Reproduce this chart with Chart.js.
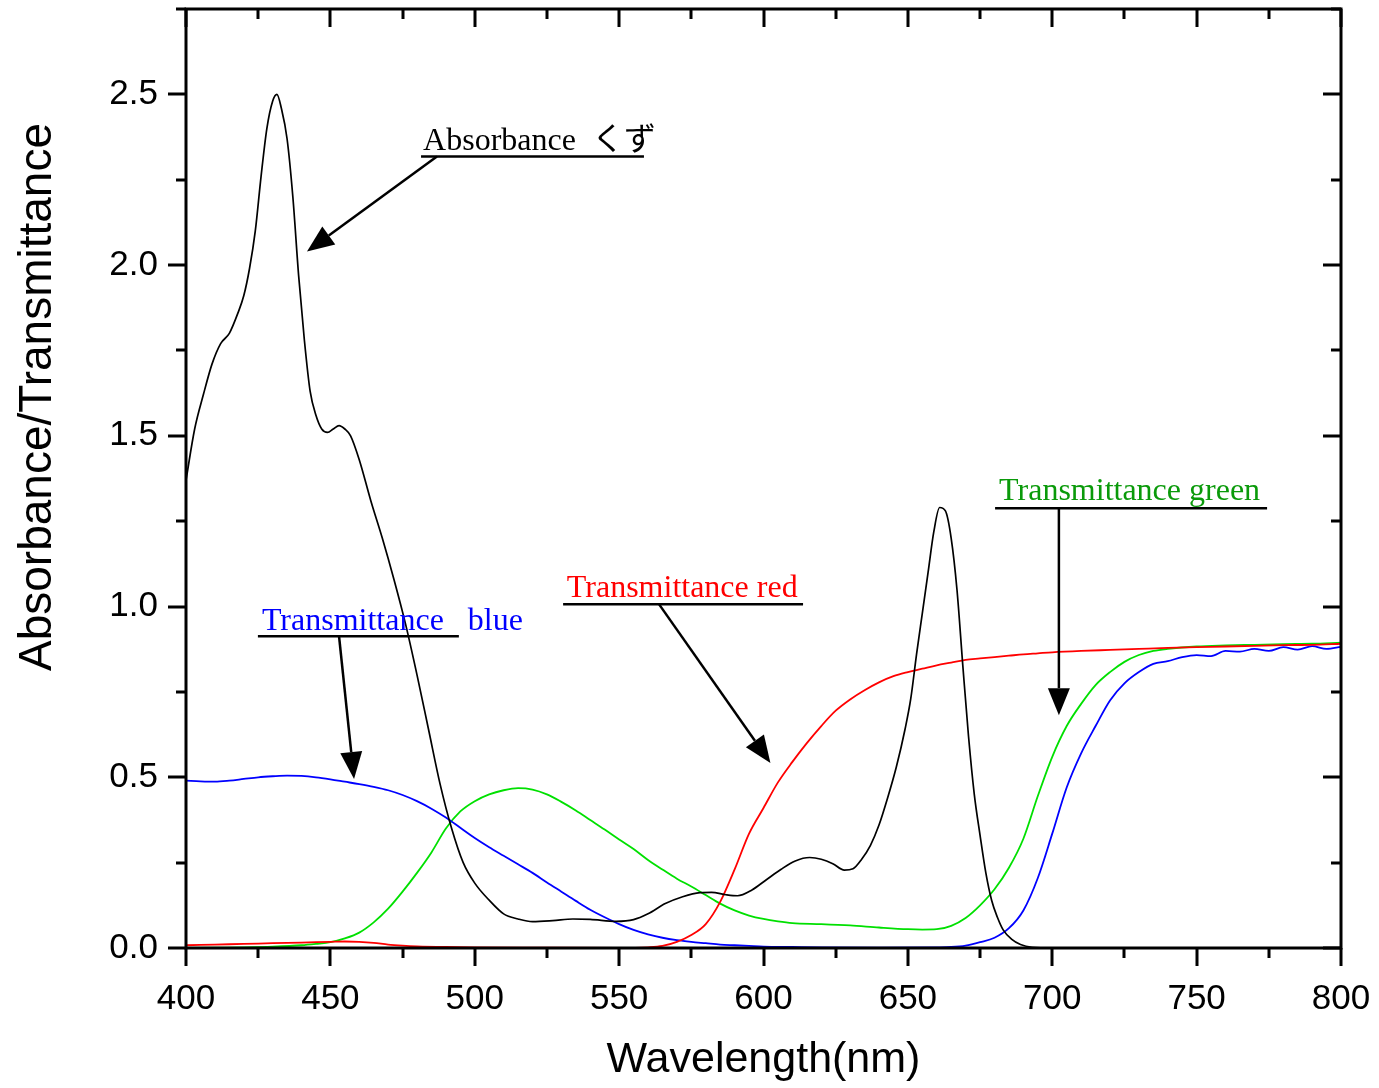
<!DOCTYPE html>
<html>
<head>
<meta charset="utf-8">
<title>Absorbance / Transmittance</title>
<script src="https://cdn.jsdelivr.net/npm/chart.js@4.4.1/dist/chart.umd.min.js"></script>
<style>
    html, body { margin: 0; padding: 0; background: #fff; }
    #wrap { width: 1379px; height: 1088px; position: relative; }
</style>
</head>
<body>
<div id="wrap"><canvas id="spectra"></canvas></div>
<script>
/* ---- data ---- */
const absWl = [400, 403, 406, 409, 412, 415, 418, 420, 422, 424, 426, 428, 430, 431.5, 433, 435, 437, 439, 441, 443,
    445, 447, 449, 451, 453, 455, 457, 460, 464, 468, 472, 476, 480, 484, 488, 492, 496, 500, 505, 510,
    515, 520, 527, 534, 540, 549, 555, 560, 566, 572, 578, 582, 587, 591, 596, 601, 606, 611, 616, 620,
    624, 628, 631, 634, 637, 640, 643, 646, 649, 651, 653, 655, 657, 659, 661, 663, 665, 667, 669, 671,
    673, 675, 677, 679, 681, 683, 686, 689, 693, 700, 800];
const absVal = [1.37, 1.52, 1.62, 1.71, 1.77, 1.80, 1.86, 1.91, 1.99, 2.10, 2.26, 2.40, 2.48, 2.50, 2.46, 2.37, 2.20, 1.97, 1.78, 1.63,
    1.56, 1.52, 1.51, 1.52, 1.53, 1.52, 1.50, 1.43, 1.31, 1.20, 1.08, 0.95, 0.80, 0.64, 0.48, 0.35, 0.25, 0.19, 0.14, 0.10,
    0.085, 0.077, 0.080, 0.085, 0.084, 0.078, 0.083, 0.10, 0.13, 0.150, 0.162, 0.163, 0.156, 0.153, 0.17, 0.20, 0.23, 0.255, 0.265, 0.26,
    0.247, 0.228, 0.232, 0.26, 0.30, 0.36, 0.44, 0.53, 0.64, 0.73, 0.86, 0.98, 1.10, 1.22, 1.29, 1.28, 1.20, 1.05, 0.83, 0.62,
    0.45, 0.33, 0.22, 0.14, 0.09, 0.053, 0.025, 0.01, 0.002, 0, 0];

const blueWl = [400, 405, 410, 415, 420, 425, 430, 435, 440, 445, 450, 455, 460, 465, 470, 475, 480, 485, 490, 495,
    500, 505, 510, 515, 520, 525, 530, 535, 540, 545, 550, 555, 560, 565, 570, 575, 580, 585, 590, 595,
    600, 610, 620, 640, 660, 665, 670, 675, 680, 685, 690, 695, 700, 705, 710, 715, 720, 725, 730, 735,
    740, 745, 750, 755, 760, 765, 770, 775, 780, 785, 790, 795, 800];
const blueVal = [0.490, 0.488, 0.487, 0.490, 0.495, 0.500, 0.503, 0.505, 0.504, 0.500, 0.494, 0.487, 0.480, 0.472, 0.462, 0.448, 0.430, 0.408, 0.382, 0.352,
    0.322, 0.295, 0.270, 0.245, 0.220, 0.192, 0.165, 0.138, 0.112, 0.090, 0.070, 0.053, 0.040, 0.030, 0.023, 0.018, 0.014, 0.010, 0.008, 0.006,
    0.004, 0.003, 0.002, 0.001, 0.002, 0.003, 0.007, 0.017, 0.030, 0.058, 0.110, 0.205, 0.335, 0.470, 0.570, 0.650, 0.725, 0.775, 0.808, 0.832,
    0.840, 0.852, 0.858, 0.855, 0.870, 0.868, 0.876, 0.870, 0.881, 0.874, 0.884, 0.876, 0.882];

const greenWl = [400, 410, 420, 430, 440, 445, 450, 455, 460, 465, 470, 475, 480, 485, 490, 495, 500, 505, 510, 515,
    520, 525, 530, 535, 540, 545, 550, 555, 560, 565, 570, 575, 580, 585, 590, 595, 600, 605, 610, 620,
    630, 640, 650, 655, 660, 665, 670, 675, 680, 685, 690, 695, 700, 705, 710, 715, 720, 725, 730, 735,
    740, 750, 760, 770, 780, 790, 800];
const greenVal = [0.000, 0.001, 0.002, 0.004, 0.008, 0.012, 0.017, 0.028, 0.045, 0.075, 0.115, 0.165, 0.220, 0.280, 0.350, 0.400, 0.430, 0.450, 0.462, 0.468,
    0.464, 0.450, 0.428, 0.403, 0.375, 0.347, 0.318, 0.290, 0.258, 0.230, 0.203, 0.180, 0.155, 0.130, 0.110, 0.095, 0.085, 0.078, 0.073, 0.070,
    0.066, 0.060, 0.055, 0.054, 0.055, 0.065, 0.088, 0.125, 0.172, 0.235, 0.320, 0.445, 0.560, 0.650, 0.715, 0.770, 0.808, 0.838, 0.858, 0.870,
    0.876, 0.883, 0.886, 0.888, 0.890, 0.891, 0.894];

const redWl = [400, 410, 420, 430, 440, 450, 455, 460, 465, 470, 475, 480, 490, 500, 520, 550, 560, 565, 570, 575,
    580, 585, 590, 595, 600, 605, 610, 615, 620, 625, 630, 635, 640, 645, 650, 655, 660, 665, 670, 675,
    680, 685, 690, 695, 700, 710, 720, 730, 740, 750, 760, 770, 780, 790, 800];
const redVal = [0.008, 0.010, 0.012, 0.014, 0.016, 0.018, 0.019, 0.018, 0.015, 0.010, 0.007, 0.005, 0.003, 0.002, 0.001, 0.000, 0.002, 0.006, 0.018, 0.038,
    0.070, 0.135, 0.230, 0.335, 0.410, 0.485, 0.545, 0.600, 0.650, 0.695, 0.728, 0.755, 0.778, 0.796, 0.808, 0.818, 0.828, 0.836, 0.844, 0.848,
    0.852, 0.856, 0.860, 0.863, 0.866, 0.870, 0.873, 0.876, 0.879, 0.881, 0.883, 0.885, 0.887, 0.888, 0.891];

const xTicks = [400, 450, 500, 550, 600, 650, 700, 750, 800];
const yTicks = [0, 0.5, 1.0, 1.5, 2.0, 2.5];

/* annotation labels, in data units */
const notes = [
    { text: 'Absorbance  くず', color: '#000000', tx: 482.1, ty: 2.336, ux: [481.4, 558.6], uy: 2.318, from: [486.9, 2.318], to: [441.9, 2.040] },
    { text: 'Transmittance   blue', color: '#0000ff', tx: 426.3, ty: 0.931, ux: [424.9, 494.5], uy: 0.913, from: [453.0, 0.913], to: [458.2, 0.495] },
    { text: 'Transmittance red', color: '#ff0000', tx: 531.9, ty: 1.027, ux: [530.6, 613.7], uy: 1.007, from: [563.8, 1.007], to: [602.4, 0.542] },
    { text: 'Transmittance green', color: '#0a9a0a', tx: 681.6, ty: 1.311, ux: [680.2, 774.4], uy: 1.288, from: [702.3, 1.288], to: [702.3, 0.682] }
];

function toPoints(xs, ys) {
    return xs.map((x, i) => ({ x: x, y: ys[i] }));
}

/* box frame with Origin-style ticks: out on bottom/left, in on top/right */
const frameTicks = {
    id: 'frameTicks',
    afterDatasetsDraw(chart) {
        const { ctx, chartArea: a, scales: { x, y } } = chart;
        ctx.save();
        ctx.strokeStyle = '#000';
        ctx.lineWidth = 3;
        ctx.beginPath();
        for (let v = x.min; v <= x.max + 0.01; v += 25) {
            const px = Math.round(x.getPixelForValue(v));
            const len = v % 50 === 0 ? 18 : 10;
            ctx.moveTo(px, a.bottom); ctx.lineTo(px, a.bottom + len);
            ctx.moveTo(px, a.top); ctx.lineTo(px, a.top + len);
        }
        for (let v = 0; v <= y.max + 0.001; v += 0.25) {
            const py = Math.round(y.getPixelForValue(v));
            const len = Math.abs(v % 0.5) < 0.001 ? 18 : 10;
            ctx.moveTo(a.left, py); ctx.lineTo(a.left - len, py);
            ctx.moveTo(a.right, py); ctx.lineTo(a.right - len, py);
        }
        ctx.stroke();
        ctx.strokeRect(a.left, a.top, a.right - a.left, a.bottom - a.top);

        // y title sits a bit above the middle of the axis in the original
        ctx.translate(51, 397);
        ctx.rotate(-Math.PI / 2);
        ctx.font = '46px "Liberation Sans", Arial, sans-serif';
        ctx.fillStyle = '#000';
        ctx.textAlign = 'center';
        ctx.textBaseline = 'alphabetic';
        ctx.fillText('Absorbance/Transmittance', 0, 0);
        ctx.restore();
    }
};

/* underlined labels with arrows */
const arrowNotes = {
    id: 'arrowNotes',
    afterDraw(chart) {
        const { ctx, scales: { x, y } } = chart;
        ctx.save();
        notes.forEach(n => {
            ctx.font = '32px "Liberation Serif", "Noto Sans CJK JP", serif';
            ctx.fillStyle = n.color;
            ctx.textBaseline = 'alphabetic';
            ctx.fillText(n.text, x.getPixelForValue(n.tx), y.getPixelForValue(n.ty));

            ctx.strokeStyle = '#000';
            ctx.lineWidth = 2.5;
            const uy = y.getPixelForValue(n.uy);
            ctx.beginPath();
            ctx.moveTo(x.getPixelForValue(n.ux[0]), uy);
            ctx.lineTo(x.getPixelForValue(n.ux[1]), uy);
            ctx.stroke();

            const x0 = x.getPixelForValue(n.from[0]), y0 = y.getPixelForValue(n.from[1]);
            const x1 = x.getPixelForValue(n.to[0]), y1 = y.getPixelForValue(n.to[1]);
            const ang = Math.atan2(y1 - y0, x1 - x0);
            const headLen = 27, headHalf = 11;
            const bx = x1 - headLen * Math.cos(ang), by = y1 - headLen * Math.sin(ang);
            ctx.beginPath();
            ctx.moveTo(x0, y0);
            ctx.lineTo(bx, by);
            ctx.stroke();
            ctx.fillStyle = '#000';
            ctx.beginPath();
            ctx.moveTo(x1, y1);
            ctx.lineTo(bx + headHalf * Math.sin(ang), by - headHalf * Math.cos(ang));
            ctx.lineTo(bx - headHalf * Math.sin(ang), by + headHalf * Math.cos(ang));
            ctx.closePath();
            ctx.fill();
        });
        ctx.restore();
    }
};

function lineSet(label, xs, ys, color, width) {
    return {
        label: label,
        data: toPoints(xs, ys),
        borderColor: color,
        borderWidth: width,
        pointRadius: 0,
        fill: false,
        cubicInterpolationMode: 'monotone'
    };
}

new Chart(document.getElementById('spectra'), {
    type: 'line',
    data: {
        datasets: [
            lineSet('Absorbance', absWl, absVal, '#000000', 1.7),
            lineSet('Transmittance red', redWl, redVal, '#ff0000', 1.8),
            lineSet('Transmittance blue', blueWl, blueVal, '#0000ff', 1.8),
            lineSet('Transmittance green', greenWl, greenVal, '#00e000', 1.8)
        ]
    },
    options: {
        responsive: true,
        maintainAspectRatio: false,
        animation: false,
        layout: { autoPadding: false, padding: { top: 9, right: 38, left: 0, bottom: 0 } },
        plugins: {
            legend: { display: false },
            tooltip: { enabled: false }
        },
        scales: {
            x: {
                type: 'linear',
                min: 400,
                max: 800,
                grid: { display: false, drawTicks: false },
                border: { display: false },
                afterBuildTicks: scale => { scale.ticks = xTicks.map(v => ({ value: v })); },
                afterFit: scale => {
                    scale.height = 140;
                    scale.paddingLeft = 0;
                    scale.paddingRight = 0;
                },
                ticks: {
                    padding: 30,
                    color: '#000',
                    maxRotation: 0,
                    font: { family: 'Liberation Sans, Arial, sans-serif', size: 35 }
                },
                title: {
                    display: true,
                    text: 'Wavelength(nm)',
                    color: '#000',
                    font: { family: 'Liberation Sans, Arial, sans-serif', size: 43 },
                    padding: { top: 0, bottom: 2 }
                }
            },
            y: {
                min: 0,
                max: 2.75,
                grid: { display: false, drawTicks: false },
                border: { display: false },
                afterBuildTicks: scale => { scale.ticks = yTicks.map(v => ({ value: v })); },
                afterFit: scale => {
                    scale.width = 186;
                    scale.paddingTop = 0;
                    scale.paddingBottom = 0;
                },
                ticks: {
                    padding: 28,
                    color: '#000',
                    font: { family: 'Liberation Sans, Arial, sans-serif', size: 35 },
                    callback: v => Number(v).toFixed(1)
                },
                title: { display: false }
            }
        }
    },
    plugins: [frameTicks, arrowNotes]
});
</script>
</body>
</html>
